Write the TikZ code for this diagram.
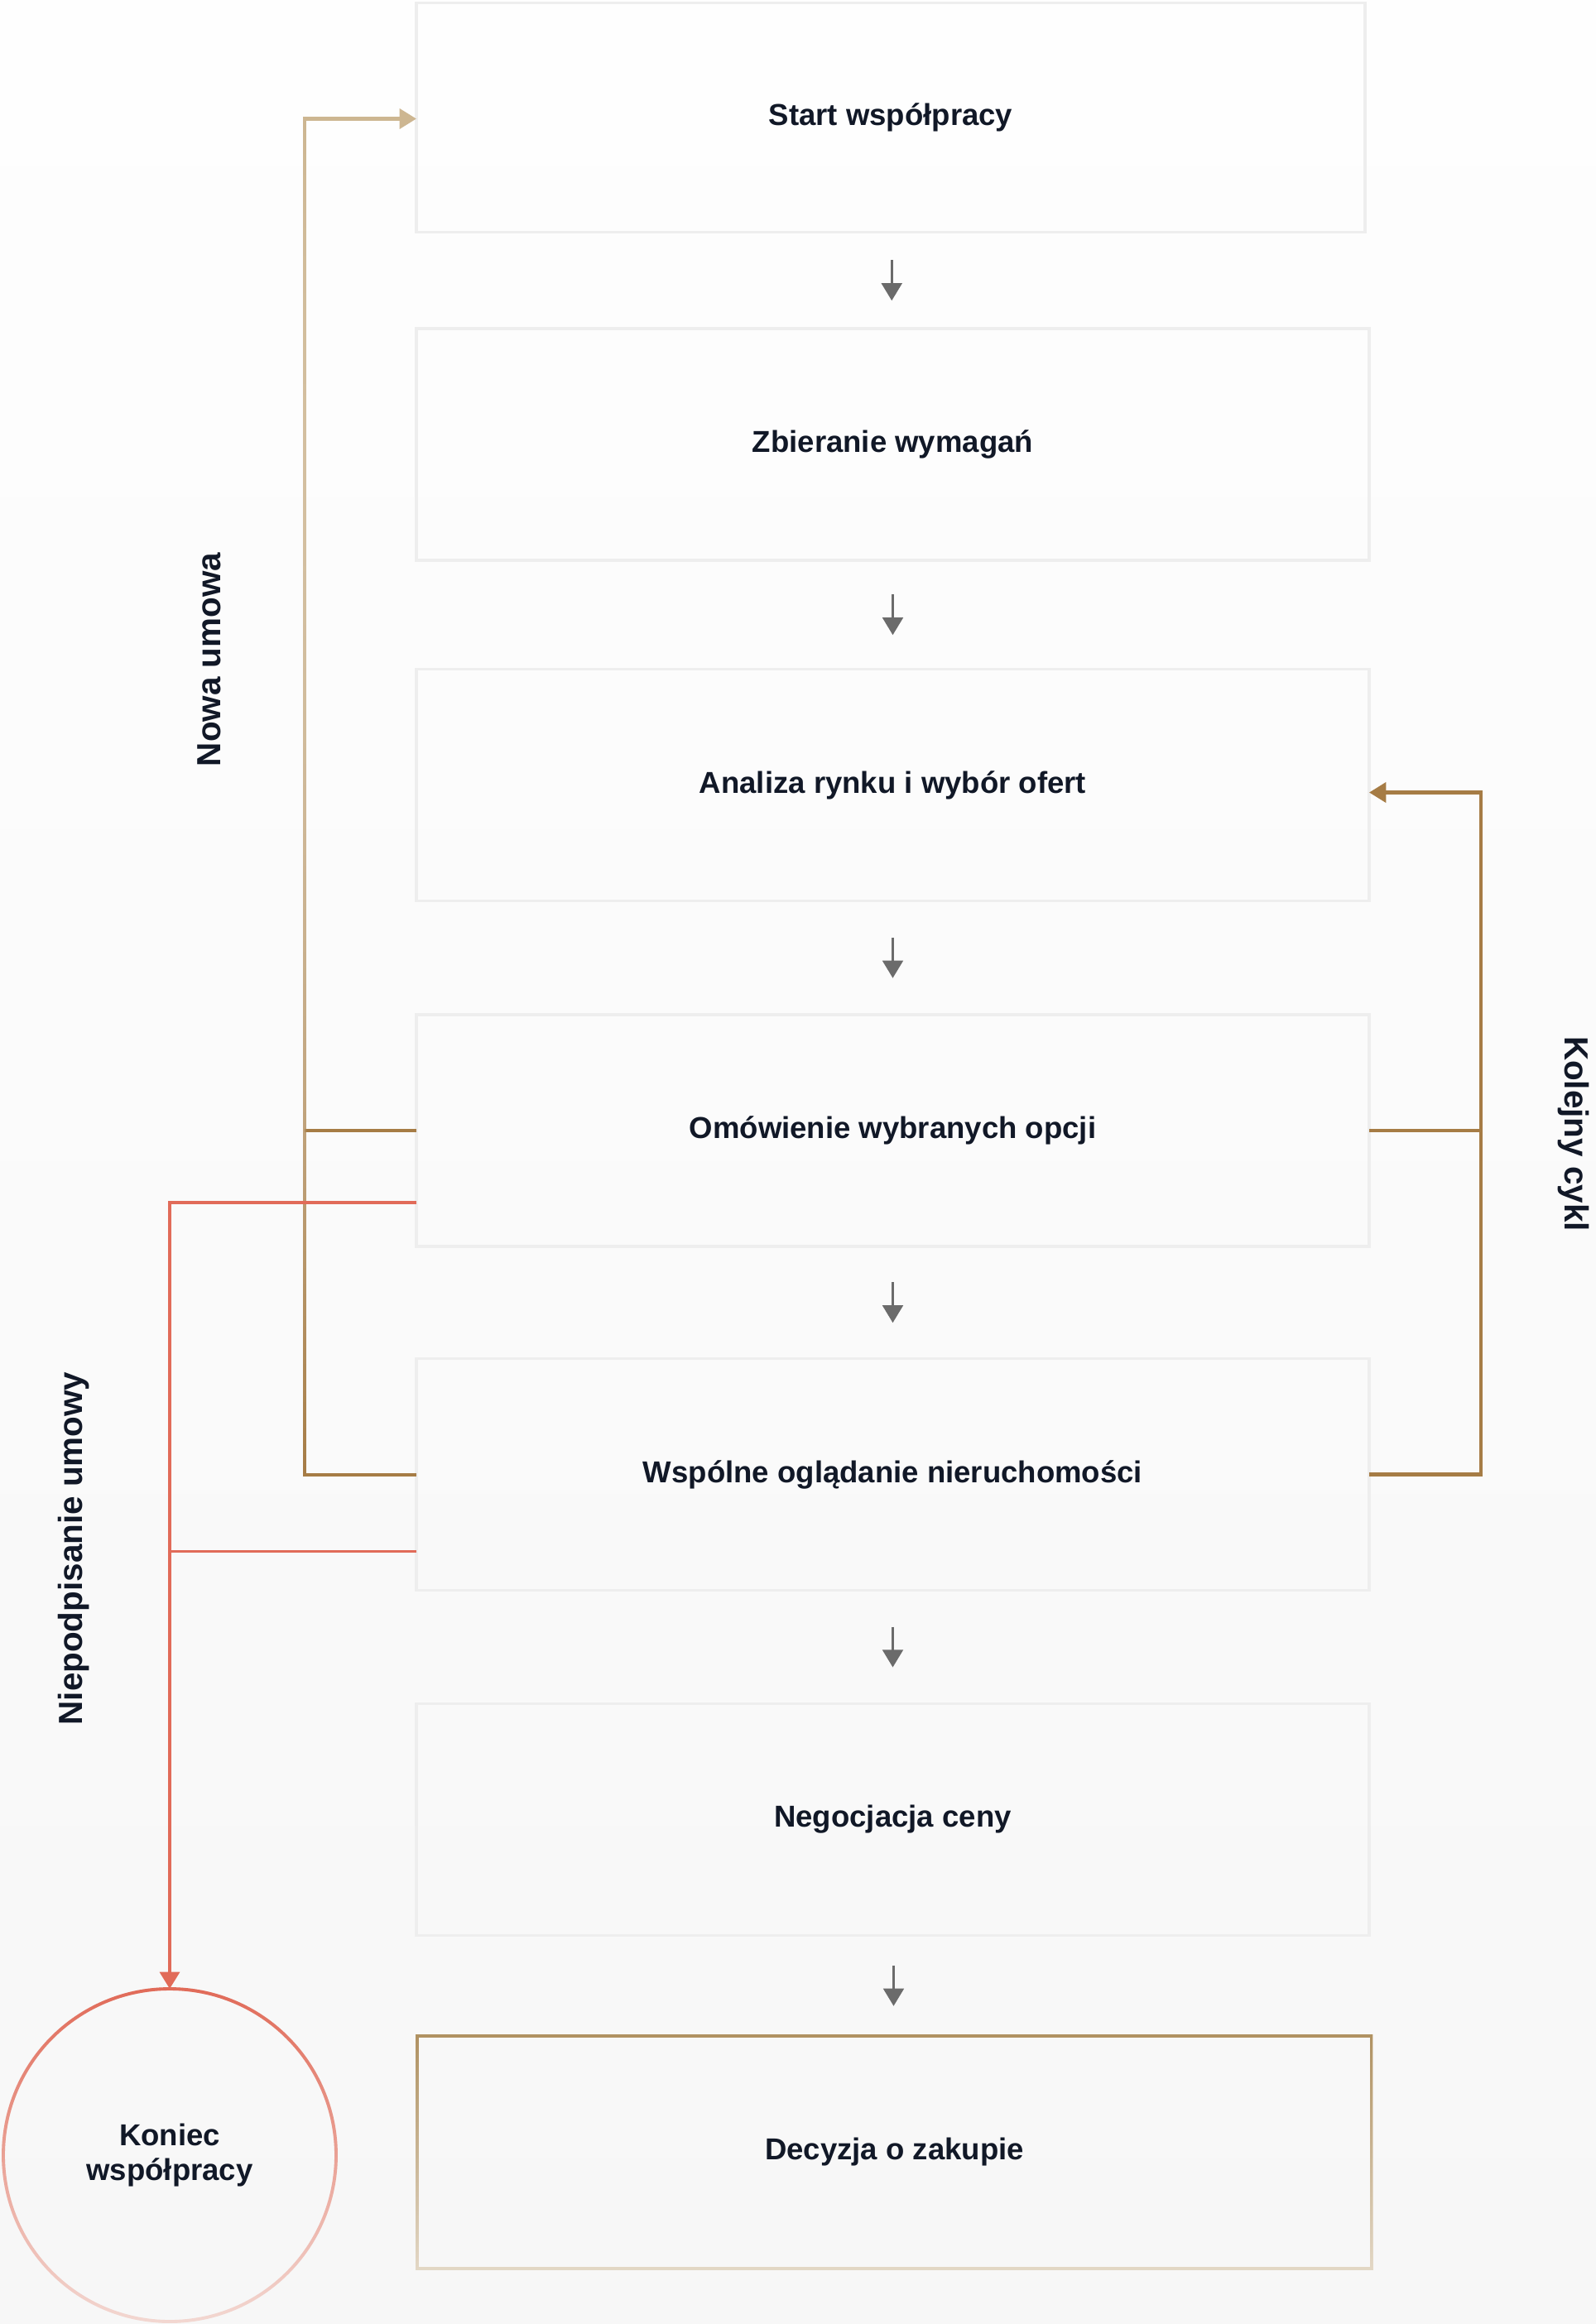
\documentclass[tikz,border=0pt]{standalone}
\usepackage{fontspec}
\setmainfont{Liberation Sans}
\usepackage{xcolor}
\usetikzlibrary{
	arrows.meta,
	calc,
	positioning,
	fadings
}
\definecolor{ink}{HTML}{111827}
\definecolor{edge}{HTML}{EEEEEE}
\definecolor{bgtop}{HTML}{FEFEFE}
\definecolor{bgbottom}{HTML}{F7F7F7}
\definecolor{goldbrown}{HTML}{A67C45}
\definecolor{tanlight}{HTML}{CDB691}
\definecolor{tandark}{HTML}{B09262}
\definecolor{tanpale}{HTML}{E3D8C6}
\definecolor{coral}{HTML}{E16B59}
\definecolor{coralpale}{HTML}{F3D8D2}
\definecolor{arrowgray}{HTML}{6B6B6B}
\tikzfading[name=fadedown, top color=transparent!0, bottom color=transparent!100]
\tikzfading[name=fadeup, top color=transparent!100, bottom color=transparent!0]
\newcommand{\boxfont}{\fontsize{10.4}{12.2}\selectfont\bfseries}
\newcommand{\labelfont}{\fontsize{11.5}{13.5}\selectfont\bfseries}

\begin{document}
\begin{tikzpicture}[
		stepbox/.style={draw=edge, line width=1.1pt, outer sep=0pt, minimum width=11.51cm, minimum height=2.8cm, text=ink, font=\boxfont},
		endcircle/.style={circle, draw=coralpale, line width=1.1pt, outer sep=0pt, minimum size=4.02cm, inner sep=0pt, align=center, text=ink, font=\boxfont},
		sidelabel/.style={text=ink, font=\labelfont},
		flow/.style={-{Triangle[width=7pt,length=6pt]}, line width=0.9pt, arrowgray},
		loopline/.style={line width=1.25pt, goldbrown},
		quitline/.style={line width=1.1pt, coral},
		loophead/.style={-{Triangle[width=6.8pt,length=5.8pt]}}
	]
		% tlo
		\shade[top color=bgtop, bottom color=bgbottom] (0,0) rectangle (19.28,-28.08);
		\useasboundingbox (0,0) rectangle (19.28,-28.08);
		% etapy
		\node[stepbox, minimum width=11.46cm, minimum height=2.77cm] (s1) at (10.76,-1.42) {Start współpracy};
		\node[stepbox] (s2) at (10.785,-5.37) {Zbieranie wymagań};
		\node[stepbox] (s3) at (10.785,-9.485) {Analiza rynku i wybór ofert};
		\node[stepbox] (s4) at (10.785,-13.66) {Omówienie wybranych opcji};
		\node[stepbox] (s5) at (10.785,-17.815) {Wspólne oglądanie nieruchomości};
		\node[stepbox] (s6) at (10.785,-21.985) {Negocjacja ceny};
		\node[stepbox, draw=tanpale, minimum width=11.53cm, minimum height=2.81cm] (s7) at (10.805,-26.005) {Decyzja o zakupie};
		\draw[tandark, line width=1.1pt, path fading=fadedown] (s7.south west) rectangle (s7.north east);
		% koniec
		\node[endcircle] (endc) at (2.05,-26.04) {Koniec\\współpracy};
		\draw[coral, line width=1.1pt, path fading=fadedown] (endc.center) circle (2.01);
		% strzalki miedzy etapami
		\foreach \a/\b in {s1/s2,s2/s3,s3/s4,s4/s5,s5/s6,s6/s7}
			\draw[flow] ($(\a.south)!0.5!(\b.north)+(0,0.245)$) -- ($(\a.south)!0.5!(\b.north)-(0,0.245)$);
		% szyny petli
		\coordinate (railL) at (3.68,0);
		\coordinate (railR) at (17.89,0);
		% nowa umowa
		\draw[loopline] (s4.west) -- (s4.west -| railL);
		\draw[loopline, loophead, path fading=fadeup] (s5.west) -- (s5.west -| railL) |- (s1.west);
		\draw[loopline, tanlight, loophead, path fading=fadedown] (s5.west) -- (s5.west -| railL) |- (s1.west);
		% kolejny cykl
		\draw[loopline, loophead] (s5.east) -- (s5.east -| railR) |- ([yshift=-0.09cm]s3.east);
		\draw[loopline] (s4.east) -- (s4.east -| railR);
		% niepodpisanie umowy
		\coordinate (q4) at ([yshift=-0.87cm]s4.west);
		\coordinate (q5) at ([yshift=-0.93cm]s5.west);
		\draw[quitline, loophead] (q4) -| (endc.north);
		\draw[quitline] (q5) -- (q5 -| endc.north);
		% opisy
		\node[sidelabel, rotate=90] (lnew) at (2.53,-7.97) {Nowa umowa};
		\node[sidelabel, rotate=90] (lquit) at (0.89,-18.71) {Niepodpisanie umowy};
		\node[sidelabel, rotate=-90] (lcycle) at (19.01,-13.70) {Kolejny cykl};
	\end{tikzpicture}
\end{document}
